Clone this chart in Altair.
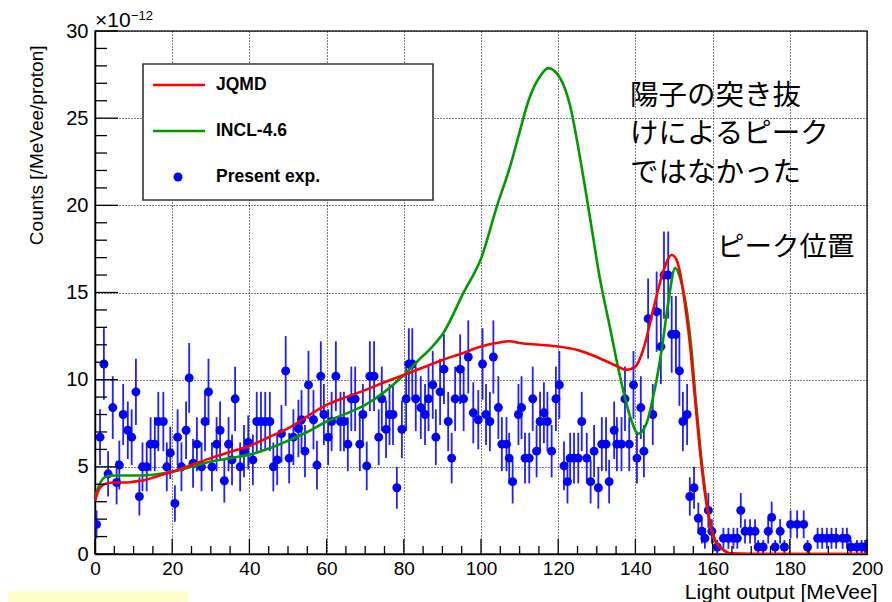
import altair as alt
import pandas as pd

FONT = "Liberation Sans"
JFONT = "Noto Sans CJK JP"
W, H = 772, 523

# ---- experimental points (Light output [MeVee], counts x1e-12, error) ----
exp_x = [0.4, 1.3, 2.3, 3.4, 4.6, 5.6, 6.3, 7.3, 8.5, 9.5,
         10.6, 11.5, 12.3, 13.4, 14.4, 15.5, 16.4, 17.7, 18.6, 19.5,
         20.7, 21.4, 22.4, 23.6, 24.4, 25.4, 26.4, 27.6, 28.5, 29.4,
         30.3, 31.5, 32.4, 33.5, 34.6, 35.5, 36.3, 37.6, 38.6, 39.7,
         40.9, 41.9, 43.0, 44.1, 45.3, 46.2, 47.2, 48.3, 49.4, 50.3,
         51.4, 52.7, 53.5, 54.4, 55.3, 56.6, 57.5, 58.5, 59.3, 60.4,
         61.3, 62.4, 63.6, 64.5, 65.5, 66.4, 67.4, 68.6, 69.4, 70.4,
         71.2, 72.3, 73.5, 74.3, 75.4, 76.3, 77.2, 78.2, 79.5, 80.6,
         81.3, 82.2, 83.1, 84.4, 85.5, 86.4, 87.5, 88.3, 89.4, 90.4,
         91.5, 92.4, 93.3, 94.6, 95.5, 96.7, 98.0, 99.3, 100.4, 101.3,
         102.3, 103.2, 104.5, 105.4, 106.6, 107.3, 108.2, 109.7, 110.5, 111.4,
         112.5, 113.4, 114.4, 115.3, 116.3, 117.2, 118.3, 119.4, 120.3, 121.5,
         122.4, 123.1, 124.1, 125.2, 126.1, 127.4, 128.4, 129.3, 130.4, 131.3,
         132.4, 133.2, 134.5, 135.2, 136.4, 137.3, 138.4, 139.5, 140.4, 141.4,
         142.2, 143.3, 144.5, 145.5, 146.6, 147.4, 148.5, 149.4, 150.5, 151.4,
         152.3, 153.4, 154.1, 155.2, 156.3, 157.2, 158.0, 158.9, 159.8, 161.2,
         162.8, 164.1, 165.4, 166.4, 167.3, 168.4, 169.7, 171.0, 171.8, 173.1,
         174.4, 175.3, 176.2, 177.5, 178.6, 180.2, 181.9, 183.6, 184.6, 187.2,
         188.4, 189.6, 190.8, 192.0, 193.7, 194.8, 195.8, 197.4, 198.6, 199.5]
exp_y = [1.7, 6.7, 10.9, 4.6, 8.4, 4.1, 5.1, 8.0, 7.1, 6.7,
         9.3, 3.3, 5.0, 5.0, 6.3, 6.3, 7.6, 7.6, 5.0, 5.8,
         2.9, 6.7, 5.0, 7.1, 10.1, 5.2, 6.3, 5.0, 7.6, 9.3,
         5.0, 6.3, 7.1, 4.2, 6.3, 5.4, 8.9, 5.0, 5.9, 6.4,
         5.4, 7.6, 7.6, 7.6, 7.6, 5.0, 5.4, 6.9, 10.5, 5.5,
         6.7, 7.2, 7.7, 5.9, 9.7, 7.7, 5.1, 10.2, 8.0, 6.7,
         7.6, 10.2, 7.6, 7.6, 6.3, 8.9, 8.9, 6.3, 8.0, 5.05,
         10.2, 10.2, 6.7, 8.9, 7.15, 8.0, 8.0, 3.8, 7.15, 8.9,
         10.9, 10.9, 8.9, 8.4, 8.0, 8.9, 9.7, 6.7, 9.3, 10.6,
         7.6, 5.5, 8.9, 10.6, 8.9, 11.3, 8.1, 7.7, 10.9, 8.0,
         7.6, 11.3, 8.4, 6.3, 6.3, 5.5, 4.15, 8.0, 8.4, 5.5,
         5.5, 8.9, 5.9, 7.6, 8.1, 7.6, 5.9, 8.9, 9.7, 5.05,
         4.15, 5.5, 5.5, 5.5, 7.6, 5.5, 4.15, 5.9, 3.8, 6.3,
         6.3, 4.15, 7.1, 6.3, 6.3, 8.9, 6.3, 9.7, 5.5, 8.4,
         5.9, 13.5, 8.0, 13.9, 11.9, 16.0, 16.0, 12.6, 12.6, 10.5,
         7.6, 8.0, 3.3, 3.8, 2.05, 1.3, 0.9, 2.5, 1.3, 0.4,
         0.9, 0.9, 0.9, 0.9, 2.5, 1.3, 1.3, 1.3, 0.4, 0.4,
         1.3, 2.1, 0.4, 1.3, 0.4, 1.7, 1.7, 1.7, 0.4, 0.9,
         0.9, 0.9, 0.9, 0.9, 0.9, 0.9, 0.4, 0.4, 0.4, 0.4]
exp_err = [0.8, 1.6, 2.05, 1.3, 1.8, 1.25, 1.4, 1.75, 1.65, 1.6,
           1.9, 1.1, 1.4, 1.4, 1.55, 1.55, 1.7, 1.7, 1.4, 1.5,
           1.05, 1.6, 1.4, 1.65, 2.0, 1.4, 1.55, 1.4, 1.7, 1.9,
           1.4, 1.55, 1.65, 1.25, 1.55, 1.45, 1.85, 1.4, 1.5, 1.55,
           1.45, 1.7, 1.7, 1.7, 1.7, 1.4, 1.45, 1.65, 2.0, 1.45,
           1.6, 1.65, 1.7, 1.5, 1.95, 1.7, 1.4, 2.0, 1.75, 1.6,
           1.7, 2.0, 1.7, 1.7, 1.55, 1.85, 1.85, 1.55, 1.75, 1.4,
           2.0, 2.0, 1.6, 1.85, 1.65, 1.75, 1.75, 1.2, 1.65, 1.85,
           2.05, 2.05, 1.85, 1.8, 1.75, 1.85, 1.95, 1.6, 1.9, 2.0,
           1.7, 1.45, 1.85, 2.0, 1.85, 2.1, 1.75, 1.7, 2.05, 1.75,
           1.7, 2.1, 1.8, 1.55, 1.55, 1.45, 1.25, 1.75, 1.8, 1.45,
           1.45, 1.85, 1.5, 1.7, 1.75, 1.7, 1.5, 1.85, 1.95, 1.4,
           1.25, 1.45, 1.45, 1.45, 1.7, 1.45, 1.25, 1.5, 1.2, 1.55,
           1.55, 1.25, 1.65, 1.55, 1.55, 1.85, 1.55, 1.95, 1.45, 1.8,
           1.5, 2.3, 1.75, 2.3, 2.15, 2.5, 2.5, 2.2, 2.2, 2.0,
           1.7, 1.75, 1.1, 1.2, 0.9, 0.7, 0.6, 1.0, 0.7, 0.4,
           0.6, 0.6, 0.6, 0.6, 1.0, 0.7, 0.7, 0.7, 0.4, 0.4,
           0.7, 0.9, 0.4, 0.7, 0.4, 0.8, 0.8, 0.8, 0.4, 0.6,
           0.6, 0.6, 0.6, 0.6, 0.6, 0.6, 0.4, 0.4, 0.4, 0.4]

# ---- JQMD calculation ----
jqmd_x = [0, 0.5, 1, 2, 3, 5, 8, 10, 13, 16, 20, 25, 30, 35, 40, 45, 50, 55, 60,
          65, 70, 75, 80, 85, 90, 95, 100, 104, 107.5, 110, 115, 120, 125, 130,
          133, 135, 137.7, 140, 142, 144.6, 146.8, 148.2, 149.4, 150.6, 151.6,
          152.8, 154.1, 155.4, 156.7, 158.4, 160.6, 163, 165, 170, 180, 190, 200]
jqmd_y = [3.0, 3.4, 3.7, 3.95, 4.05, 4.1, 4.1, 4.15, 4.25, 4.45, 4.72, 5.1, 5.5,
          5.85, 6.2, 6.7, 7.2, 7.9, 8.55, 9.0, 9.4, 9.85, 10.27, 10.7, 11.13,
          11.5, 11.9, 12.1, 12.2, 12.1, 12.0, 11.9, 11.7, 11.3, 11.0, 10.8,
          10.56, 10.75, 11.7, 14.0, 15.9, 16.8, 17.15, 16.9, 16.1, 14.4, 12.1,
          9.0, 5.97, 2.9, 0.8, 0.2, 0.02, 0, 0, 0, 0]

# ---- INCL-4.6 calculation ----
incl_x = [0, 0.5, 1, 2, 3, 5, 10, 15, 20, 25, 30, 35, 40, 45, 50, 55, 60, 65, 70,
          75, 80, 84.2, 87, 90.2, 95.4, 100.2, 104.1, 107.5, 110, 112.3, 115.3,
          117.4, 120.5, 123.1, 125.6, 128.2, 130.8, 133.4, 136, 138.6, 140.8,
          142.9, 144.6, 146.8, 148.5, 150.3, 152, 153.3, 154.5, 155.6, 156.9,
          158.5, 160.6, 163, 165, 170, 180, 190, 200]
incl_y = [3.3, 3.6, 3.9, 4.3, 4.45, 4.5, 4.5, 4.55, 4.72, 5.0, 5.3, 5.5, 5.7, 6.05,
          6.5, 7.0, 7.6, 8.05, 8.55, 9.3, 10.27, 11.2, 11.8, 12.66, 14.96, 17.06,
          19.93, 22.2, 24.2, 26.0, 27.4, 27.87, 27.3, 25.7, 22.8, 19.35, 15.8,
          13.0, 10.2, 7.9, 6.9, 7.5, 9.0, 11.7, 14.4, 16.4, 15.5, 14.0, 11.8,
          8.9, 5.9, 2.9, 0.8, 0.2, 0.02, 0, 0, 0, 0]

# ---- axis ticks ----
x_major = [0, 20, 40, 60, 80, 100, 120, 140, 160, 180, 200]
x_minor = [v for v in range(0, 201, 5) if v % 20]
y_major = [0, 5, 10, 15, 20, 25, 30]
y_minor = [v for v in range(0, 31) if v % 5]

legend_labels = ["JQMD", "INCL-4.6", "Present exp."]
note_lines = ["陽子の突き抜", "けによるピーク", "ではなかった"]
note_peak = "ピーク位置"

xs = alt.Scale(domain=[0, 200], nice=False, zero=False)
ys = alt.Scale(domain=[0, 30], nice=False, zero=False)

exp_df = pd.DataFrame({"x": exp_x, "y": exp_y, "err": exp_err})
exp_df["lo"] = exp_df["y"] - exp_df["err"]
exp_df["hi"] = exp_df["y"] + exp_df["err"]

x_axis = alt.Axis(values=x_major, ticks=False, grid=True, gridDash=[1, 2],
                  gridColor="#000", gridWidth=1, gridOpacity=1,
                  domainColor="#000", domainWidth=1.5,
                  labelFont=FONT, labelFontSize=19, labelColor="#000",
                  labelPadding=5, labelFlush=False, labelOverlap=False,
                  title="Light output [MeVee]", titleFont=FONT, titleFontSize=21,
                  titleFontWeight="normal", titleColor="#000", titleAnchor="end",
                  titleAlign="right", titleX=782, titleY=44,
                  titleBaseline="alphabetic")
y_axis = alt.Axis(values=y_major, ticks=False, grid=True, gridDash=[1, 2],
                  gridColor="#000", gridWidth=1, gridOpacity=1,
                  domainColor="#000", domainWidth=1.5,
                  labelFont=FONT, labelFontSize=20, labelColor="#000",
                  labelPadding=7, labelFlush=False, labelOverlap=False,
                  title="Counts [/MeVee/proton]", titleFont=FONT, titleFontSize=19,
                  titleFontWeight="normal", titleColor="#000", titleAnchor="end",
                  titleAlign="right", titleAngle=270, titleX=-53, titleY=14,
                  titleBaseline="alphabetic")


def X(field):
    return alt.X(field, scale=xs, axis=x_axis)


def Y(field):
    return alt.Y(field, scale=ys, axis=y_axis)


errbars = alt.Chart(exp_df).mark_rule(color="#1f1fff", strokeWidth=1.8, clip=True).encode(
    x=X("x:Q"), y=Y("lo:Q"), y2="hi:Q")
points = alt.Chart(exp_df).mark_circle(size=80, color="#0000ff", opacity=1, clip=True).encode(
    x=X("x:Q"), y=Y("y:Q"))
incl = alt.Chart(pd.DataFrame({"x": incl_x, "y": incl_y})).mark_line(
    color="#009a00", strokeWidth=2.6, interpolate="monotone", clip=True).encode(
    x=X("x:Q"), y=Y("y:Q"))
jqmd = alt.Chart(pd.DataFrame({"x": jqmd_x, "y": jqmd_y})).mark_line(
    color="#ff0000", strokeWidth=2.6, interpolate="monotone", clip=True).encode(
    x=X("x:Q"), y=Y("y:Q"))

# inner ticks (ROOT style)
xmaj = alt.Chart(pd.DataFrame({"x": x_major})).mark_rule(color="#000", strokeWidth=1.3).encode(
    x=X("x:Q"), y=alt.value(H), y2=alt.value(H - 15))
xmin = alt.Chart(pd.DataFrame({"x": x_minor})).mark_rule(color="#000", strokeWidth=1.3).encode(
    x=X("x:Q"), y=alt.value(H), y2=alt.value(H - 8))
ymaj = alt.Chart(pd.DataFrame({"y": y_major})).mark_rule(color="#000", strokeWidth=1.3).encode(
    y=Y("y:Q"), x=alt.value(0), x2=alt.value(23))
ymin = alt.Chart(pd.DataFrame({"y": y_minor})).mark_rule(color="#000", strokeWidth=1.3).encode(
    y=Y("y:Q"), x=alt.value(0), x2=alt.value(12))

one = pd.DataFrame({"a": [0]})

# legend box
leg_box = alt.Chart(one).mark_rect(fill="white", stroke="#333", strokeWidth=1.6).encode(
    x=alt.value(48), x2=alt.value(338), y=alt.value(33), y2=alt.value(169))
leg_red = alt.Chart(one).mark_rule(color="#ff0000", strokeWidth=2.6).encode(
    x=alt.value(58), x2=alt.value(110), y=alt.value(54))
leg_green = alt.Chart(one).mark_rule(color="#009a00", strokeWidth=2.6).encode(
    x=alt.value(58), x2=alt.value(110), y=alt.value(100))
leg_dot = alt.Chart(one).mark_circle(size=80, color="#0000ff", opacity=1).encode(
    x=alt.value(83), y=alt.value(146))
leg_texts = [
    alt.Chart(one).mark_text(text=t, font=FONT, fontSize=17.5, fontWeight="bold",
                             align="left", baseline="middle", color="#000").encode(
        x=alt.value(121), y=alt.value(yy))
    for t, yy in zip(legend_labels, [54, 100, 146])
]

# exponent label
exp_lab = alt.Chart(one).mark_text(text="×10", font=FONT, fontSize=21, align="left",
                                   baseline="alphabetic", color="#000").encode(
    x=alt.value(0), y=alt.value(-4))
exp_sup = alt.Chart(one).mark_text(text="−12", font=FONT, fontSize=13, align="left",
                                   baseline="alphabetic", color="#000").encode(
    x=alt.value(36), y=alt.value(-11))

# Japanese annotations
notes = [
    alt.Chart(one).mark_text(text=t, font=JFONT, fontSize=28.5, align="left",
                             baseline="middle", color="#000").encode(
        x=alt.value(535), y=alt.value(yy))
    for t, yy in zip(note_lines, [65, 103, 142])
]
peak_note = alt.Chart(one).mark_text(text=note_peak, font=JFONT, fontSize=27.5, align="left",
                                     baseline="middle", color="#000").encode(
    x=alt.value(622), y=alt.value(217))

# pale yellow strip at the bottom-left corner
strip = alt.Chart(one).mark_rect(fill="#ffffcc").encode(
    x=alt.value(-87), x2=alt.value(93), y=alt.value(560), y2=alt.value(580))

chart = alt.layer(
    errbars, points, incl, jqmd,
    xmaj, xmin, ymaj, ymin,
    leg_box, leg_red, leg_green, leg_dot, *leg_texts,
    exp_lab, exp_sup, *notes, peak_note, strip,
).properties(
    width=W, height=H,
    autosize=alt.AutoSizeParams(type="none"),
    padding={"left": 87, "top": 23, "right": 17, "bottom": 48},
    background="white",
).configure_view(stroke="#333", strokeWidth=1.5)

chart.save("out.html", embed_options={"renderer": "svg", "actions": False})
